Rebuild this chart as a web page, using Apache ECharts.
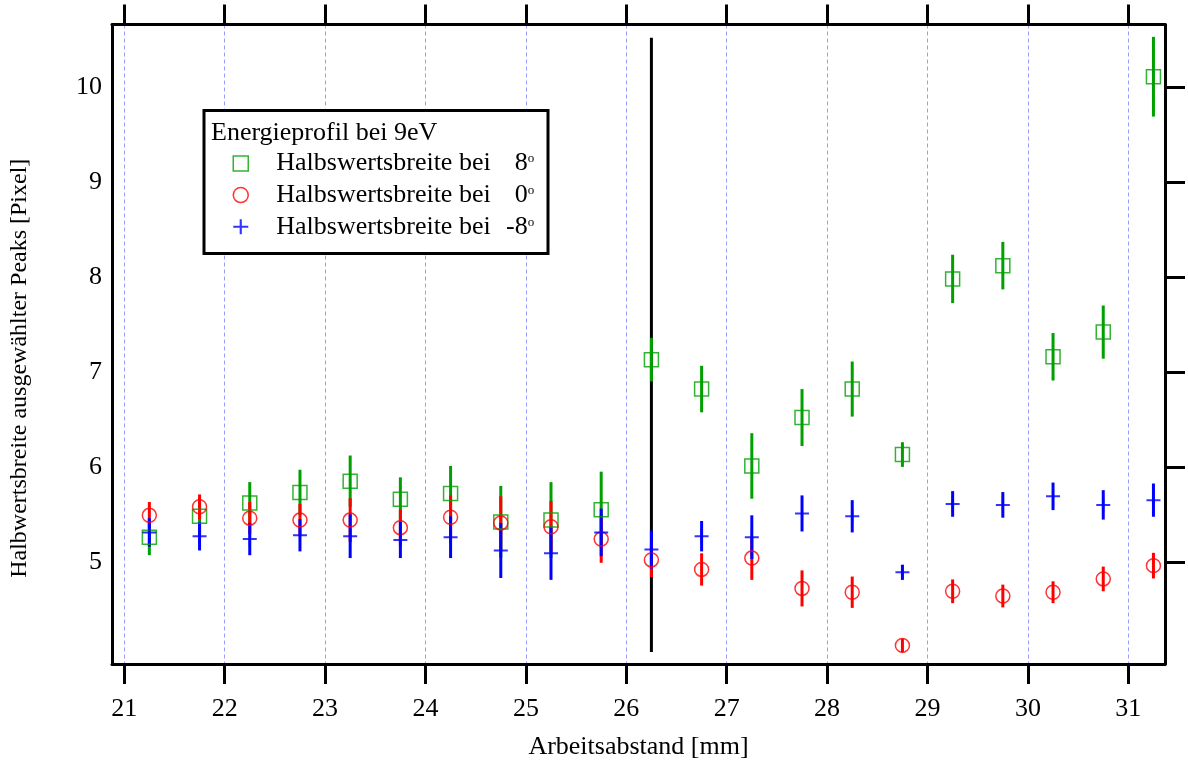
<!DOCTYPE html>
<html>
<head>
<meta charset="utf-8">
<style>
  html, body { margin: 0; padding: 0; background: #fff; }
  #chart { width: 1188px; height: 765px; }
</style>
<script src="https://cdn.jsdelivr.net/npm/echarts@6/dist/echarts.min.js"></script>
</head>
<body>
<div id="chart"></div>
<script>
// Working distance (mm) of each measurement
const distance = [21.25, 21.75, 22.25, 22.75, 23.25, 23.75, 24.25, 24.75, 25.25, 25.75,
                  26.25, 26.75, 27.25, 27.75, 28.25, 28.75, 29.25, 29.75, 30.25, 30.75, 31.25];

// FWHM of selected peaks at +8 degrees and its uncertainty
const fwhmPlus8 = [5.26, 5.48, 5.62, 5.73, 5.85, 5.66, 5.72, 5.42, 5.44, 5.55,
                   7.13, 6.82, 6.01, 6.52, 6.82, 6.13, 7.98, 8.12, 7.16, 7.42, 10.11];
const errPlus8  = [0.19, 0.20, 0.22, 0.24, 0.27, 0.23, 0.29, 0.38, 0.40, 0.40,
                   0.23, 0.245, 0.345, 0.30, 0.29, 0.13, 0.255, 0.25, 0.25, 0.28, 0.42];

// FWHM at 0 degrees
const fwhmZero = [5.49, 5.58, 5.46, 5.44, 5.44, 5.36, 5.47, 5.41, 5.37, 5.24,
                  5.02, 4.92, 5.04, 4.72, 4.68, 4.12, 4.69, 4.64, 4.68, 4.82, 4.96];
const errZero  = [0.14, 0.13, 0.17, 0.17, 0.23, 0.19, 0.23, 0.28, 0.27, 0.25,
                  0.18, 0.17, 0.23, 0.19, 0.165, 0.07, 0.125, 0.12, 0.115, 0.13, 0.135];

// FWHM at -8 degrees
const fwhmMinus8 = [5.31, 5.27, 5.24, 5.28, 5.27, 5.23, 5.26, 5.12, 5.09, 5.31,
                    5.13, 5.27, 5.26, 5.51, 5.48, 4.89, 5.61, 5.60, 5.69, 5.60, 5.65];
const errMinus8  = [0.15, 0.15, 0.17, 0.17, 0.23, 0.19, 0.22, 0.29, 0.28, 0.25,
                    0.20, 0.16, 0.23, 0.19, 0.17, 0.08, 0.135, 0.135, 0.145, 0.155, 0.175];

// Vertical marker line: position and extent
const markerX = [26.25];
const markerRange = [4.05, 10.52];

// Axis ranges and ticks
const xRange = [20.878, 31.365];
const yRange = [3.924, 10.66];
const xTicks = [21, 22, 23, 24, 25, 26, 27, 28, 29, 30, 31];
const yTicks = [5, 6, 7, 8, 9, 10];

const seriesNames = ['Halbswertsbreite bei 8°', 'Halbswertsbreite bei 0°', 'Halbswertsbreite bei -8°'];
const angleLabels = ['8', '0', '-8'];
const legendTitle = 'Energieprofil bei 9eV';

const FONT = 'Liberation Serif';
const GREEN = '#00a000';
const RED = '#ff0000';
const BLUE = '#0000ff';
const PLUS = 'path://M0,6H14V8H0Z M6,0H8V14H6Z';

function errorData(xs, vs, es) {
  return xs.map((x, i) => [x, vs[i], es[i]]);
}
function pointData(xs, vs) {
  return xs.map((x, i) => [x, vs[i]]);
}
// vertical error bar from value - err to value + err
function barRenderer(color, width) {
  return function (params, api) {
    const x = api.value(0), v = api.value(1), e = api.value(2);
    const lo = api.coord([x, v - e]);
    const hi = api.coord([x, v + e]);
    return {
      type: 'line',
      shape: { x1: lo[0], y1: lo[1], x2: hi[0], y2: hi[1] },
      style: { stroke: color, lineWidth: width }
    };
  };
}
// vertical line between two given values
function rangeRenderer(color, width) {
  return function (params, api) {
    const x = api.value(0);
    const lo = api.coord([x, api.value(1)]);
    const hi = api.coord([x, api.value(2)]);
    return {
      type: 'line',
      shape: { x1: lo[0], y1: lo[1], x2: hi[0], y2: hi[1] },
      style: { stroke: color, lineWidth: width }
    };
  };
}

const axisLine = { show: true, onZero: false, lineStyle: { color: '#000', width: 3 } };
const tickStyle = { color: '#000', width: 3 };
const labelFont = { fontFamily: FONT, fontSize: 26, color: '#000' };

const chart = echarts.init(document.getElementById('chart'), null, { renderer: 'canvas' });

chart.setOption({
  animation: false,
  backgroundColor: '#fff',
  grid: { left: 111, right: 23, top: 24.5, bottom: 100 },
  xAxis: [
    {
      type: 'value', position: 'bottom', min: xRange[0], max: xRange[1],
      axisLine: axisLine,
      axisTick: { show: true, customValues: xTicks, length: 20, lineStyle: tickStyle },
      axisLabel: Object.assign({ customValues: xTicks, margin: 32 }, labelFont),
      splitLine: { show: true, lineStyle: { color: '#9a9aff', width: 1, type: [4, 3] } },
      name: 'Arbeitsabstand [mm]', nameLocation: 'middle', nameGap: 70,
      nameTextStyle: labelFont
    },
    {
      type: 'value', position: 'top', min: xRange[0], max: xRange[1],
      axisLine: axisLine,
      axisTick: { show: true, customValues: xTicks, length: 20, lineStyle: tickStyle },
      axisLabel: { show: false },
      splitLine: { show: false }
    }
  ],
  yAxis: [
    {
      type: 'value', position: 'left', min: yRange[0], max: yRange[1],
      axisLine: axisLine,
      axisTick: { show: false },
      axisLabel: Object.assign({ customValues: yTicks, margin: 10 }, labelFont),
      splitLine: { show: false },
      name: 'Halbwertsbreite ausgewählter Peaks [Pixel]', nameLocation: 'middle', nameGap: 80,
      nameTextStyle: { fontFamily: FONT, fontSize: 24, color: '#000', padding: [0, 48, 0, 0] }
    },
    {
      type: 'value', position: 'right', min: yRange[0], max: yRange[1],
      axisLine: axisLine,
      axisTick: { show: true, customValues: yTicks, length: 20, lineStyle: tickStyle },
      axisLabel: { show: false },
      splitLine: { show: false }
    }
  ],
  legend: {
    orient: 'vertical', left: 232.5, top: 149.4, padding: 0,
    itemWidth: 15, itemHeight: 15, itemGap: 3.65,
    selectedMode: false,
    data: [
      { name: seriesNames[0], icon: 'rect', itemStyle: { color: 'rgba(0,0,0,0)', borderColor: GREEN, borderWidth: 1.5 } },
      { name: seriesNames[1], icon: 'circle', itemStyle: { color: 'rgba(0,0,0,0)', borderColor: RED, borderWidth: 1.5 } },
      { name: seriesNames[2], icon: PLUS, itemStyle: { color: BLUE, borderWidth: 0 } }
    ],
    formatter: function (name) {
      const k = seriesNames.indexOf(name);
      const gap = angleLabels[k].length > 1 ? 'g2' : 'g1';
      return '{s|}{t|Halbswertsbreite bei}{' + gap + '|}{n|' + angleLabels[k] + '}{o|o}';
    },
    textStyle: {
      fontFamily: FONT, fontSize: 26, color: '#000', lineHeight: 28,
      rich: {
        s: { width: 23, lineHeight: 28 },
        g1: { width: 24, lineHeight: 28 },
        g2: { width: 15.3, lineHeight: 28 },
        t: { fontFamily: FONT, fontSize: 26, color: '#000', lineHeight: 28 },
        n: { fontFamily: FONT, fontSize: 26, color: '#000', lineHeight: 28 },
        o: { fontFamily: FONT, fontSize: 13, color: '#000', lineHeight: 13, verticalAlign: 'top', padding: [3, 0, 0, 0] }
      }
    }
  },
  graphic: [
    {
      type: 'rect', z: 3, silent: true,
      shape: { x: 204, y: 110.5, width: 344, height: 143 },
      style: { fill: '#fff', stroke: '#000', lineWidth: 3 }
    },
    {
      type: 'text', z: 5, silent: true, x: 211, y: 133,
      style: { text: legendTitle, font: '26px "Liberation Serif"', fill: '#000', verticalAlign: 'middle' }
    }
  ],
  series: [
    {
      type: 'custom', name: 'marker', renderItem: rangeRenderer('#000', 3),
      data: markerX.map(x => [x, markerRange[0], markerRange[1]]),
      encode: { x: 0, y: [1, 2] }, silent: true
    },
    {
      type: 'custom', name: 'err8', renderItem: barRenderer(GREEN, 3),
      data: errorData(distance, fwhmPlus8, errPlus8), encode: { x: 0, y: 1 }, silent: true
    },
    {
      type: 'scatter', name: seriesNames[0], symbol: 'rect', symbolSize: 14,
      itemStyle: { color: 'rgba(0,0,0,0)', borderColor: GREEN, borderWidth: 1.5 },
      data: pointData(distance, fwhmPlus8), silent: true
    },
    {
      type: 'custom', name: 'err0', renderItem: barRenderer(RED, 3),
      data: errorData(distance, fwhmZero, errZero), encode: { x: 0, y: 1 }, silent: true
    },
    {
      type: 'scatter', name: seriesNames[1], symbol: 'circle', symbolSize: 14,
      itemStyle: { color: 'rgba(0,0,0,0)', borderColor: RED, borderWidth: 1.5 },
      data: pointData(distance, fwhmZero), silent: true
    },
    {
      type: 'custom', name: 'errM8', renderItem: barRenderer(BLUE, 3),
      data: errorData(distance, fwhmMinus8, errMinus8), encode: { x: 0, y: 1 }, silent: true
    },
    {
      type: 'scatter', name: seriesNames[2], symbol: PLUS, symbolSize: 14,
      itemStyle: { color: BLUE },
      data: pointData(distance, fwhmMinus8), silent: true
    }
  ]
});
</script>
</body>
</html>
